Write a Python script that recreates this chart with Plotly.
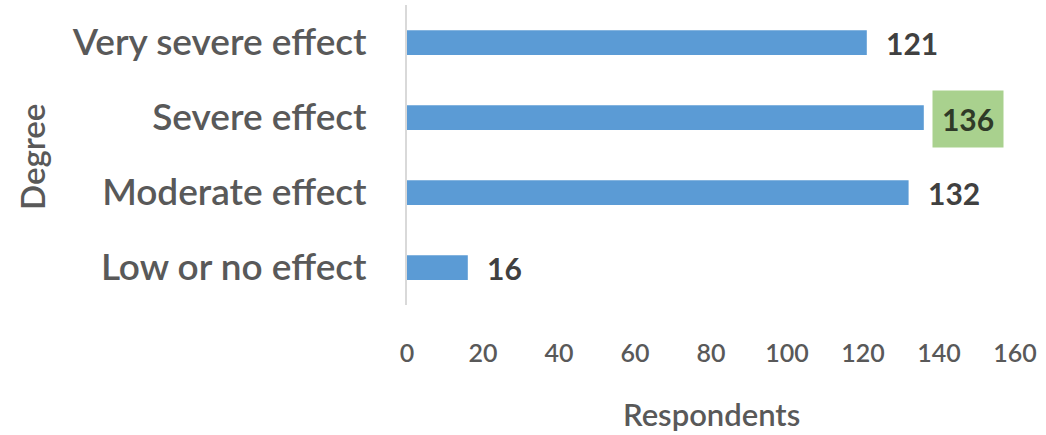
import plotly.graph_objects as go

categories = ["Low or no effect", "Moderate effect", "Severe effect", "Very severe effect"]
respondents = [16, 132, 136, 121]
x_ticks = [0, 20, 40, 60, 80, 100, 120, 140, 160]
highlight = "Severe effect"

FONT = "Lato"
BAR = "#5b9bd5"
GREY = "#595959"

fig = go.Figure()
fig.add_trace(go.Bar(
    y=categories, x=respondents, orientation="h",
    marker=dict(color=BAR, line=dict(width=0)),
    width=0.33, hoverinfo="x+y",
))

for cat, val in zip(categories, respondents):
    if cat == highlight:
        fig.add_annotation(
            x=val, y=cat, xref="x", yref="y", text=f"<b>{val}</b>",
            showarrow=False, xanchor="left", yanchor="middle", xshift=8, yshift=-1,
            font=dict(family=FONT, size=30, color="#2f3a28"),
            bgcolor="#a9d18e", width=70, height=56, borderpad=0,
        )
    else:
        fig.add_annotation(
            x=val, y=cat, xref="x", yref="y", text=f"<b>{val}</b>",
            showarrow=False, xanchor="left", yanchor="middle", xshift=17,
            font=dict(family=FONT, size=30, color="#404040"),
        )

fig.add_annotation(
    text="Degree", textangle=-90, xref="paper", yref="paper", x=0, y=0.5,
    xanchor="center", yanchor="middle", xshift=-375, yshift=-2, showarrow=False,
    font=dict(family=FONT, size=33, color=GREY, weight=600),
)
fig.add_annotation(
    text="Respondents", xref="paper", yref="paper", x=0.5, y=0,
    xanchor="center", yanchor="middle", yshift=-109, showarrow=False,
    font=dict(family=FONT, size=31, color=GREY, weight=600),
)

fig.update_layout(
    width=1046, height=435,
    margin=dict(l=407, r=31, t=5, b=130),
    paper_bgcolor="white", plot_bgcolor="white",
    showlegend=False, bargap=0.67,
    font=dict(family=FONT, color=GREY),
)
fig.update_xaxes(
    range=[0, 160], tickvals=x_ticks, ticktext=[str(t) for t in x_ticks],
    showgrid=False, zeroline=False, showline=False, ticks="",
    tickfont=dict(family=FONT, size=25, color=GREY, weight=600), ticklabelstandoff=31,
    fixedrange=True,
)
fig.update_yaxes(
    categoryorder="array", categoryarray=categories,
    showgrid=False, zeroline=False, showline=True, linecolor="#d9d9d9", linewidth=2,
    ticks="", tickfont=dict(family=FONT, size=37, color=GREY, weight=600), ticklabelstandoff=31,
    fixedrange=True,
)

fig.write_html("out.html")
